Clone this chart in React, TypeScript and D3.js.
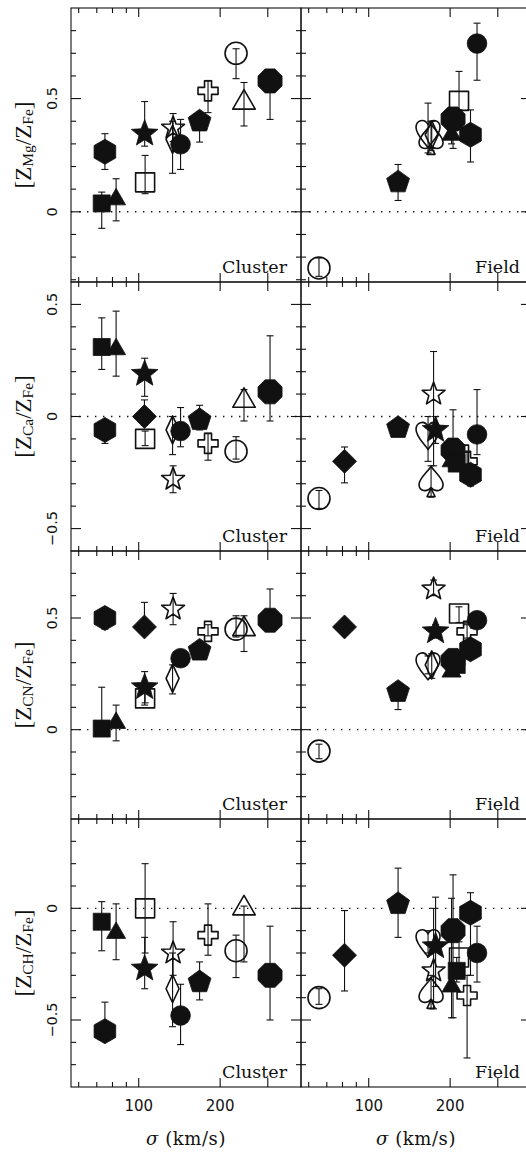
import React from "react";
import * as d3 from "d3";

// galaxies in the Cluster panels
const clusterSymbols = [
  "hexagon", "square", "triangle", "squareOpen", "star", "diamond", "starOpen",
  "diamondOpen", "circle", "pentagon", "crossOpen", "circleOpen", "triangleOpen", "octagon",
];
const clusterSigma = [75, 73, 82.5, 105.6, 105.2, 105, 134, 133.4, 142.8, 167.9, 180.4, 229, 245, 305.8];

// [value, lower end of error bar, upper end of error bar], null = not plotted
const clusterMg = [
  [0.265, 0.187, 0.345], [0.037, -0.073, 0.087], [0.055, -0.04, 0.146], [0.13, 0.08, 0.249],
  [0.345, 0.29, 0.487], null, [0.37, 0.31, 0.434], [0.32, 0.17, 0.4], [0.298, 0.187, 0.408],
  [0.4, 0.308, 0.44], [0.534, 0.438, 0.58], [0.7, 0.588, 0.72], [0.482, 0.379, 0.571], [0.578, 0.408, 0.6],
];
const clusterCa = [
  [-0.06, -0.12, -0.02], [0.31, 0.21, 0.44], [0.3, 0.18, 0.47], [-0.1, -0.13, -0.065],
  [0.19, 0.09, 0.26], [0.0, -0.04, 0.074], [-0.28, -0.34, -0.22], [-0.06, -0.17, 0.0],
  [-0.065, -0.135, 0.04], [-0.015, -0.06, 0.05], [-0.12, -0.195, -0.075], [-0.155, -0.19, -0.09],
  [0.07, -0.02, 0.12], [0.11, -0.02, 0.36],
];
const clusterCN = [
  [0.5, 0.45, 0.53], [0.005, -0.03, 0.19], [0.03, -0.05, 0.11], [0.14, 0.12, 0.2],
  [0.19, 0.11, 0.26], [0.46, 0.43, 0.57], [0.54, 0.47, 0.61], [0.23, 0.16, 0.29],
  [0.32, 0.3, 0.34], [0.355, 0.33, 0.38], [0.44, 0.42, 0.47], [0.45, 0.415, 0.51],
  [0.45, 0.35, 0.51], [0.49, 0.45, 0.63],
];
const clusterCH = [
  [-0.55, -0.58, -0.42], [-0.06, -0.19, 0.03], [-0.11, -0.23, 0.02], [0.0, -0.2, 0.2],
  [-0.27, -0.36, -0.13], null, [-0.2, -0.3, -0.06], [-0.36, -0.53, -0.2],
  [-0.48, -0.61, -0.34], [-0.33, -0.41, -0.24], [-0.12, -0.21, 0.02], [-0.19, -0.31, -0.12],
  [0.0, -0.24, 0.01], [-0.3, -0.5, -0.08],
];

// galaxies in the Field panels
const fieldSymbols = [
  "circleOpen", "diamond", "pentagon", "heartOpen", "spadeOpen", "diamondOpen", "starOpen", "star",
  "octagon", "triangle", "square", "squareOpen", "crossOpen", "hexagon", "circle",
];
const fieldSigma = [65.5, 81.4, 128.4, 165.7, 170, 171, 173.7, 176.7, 205, 202.4, 211.5, 215.7, 231, 237.8, 251.4];

const fieldMg = [
  [-0.248, -0.285, -0.204], null, [0.131, 0.05, 0.209], [0.35, 0.26, 0.48], [0.32, 0.27, 0.4],
  [0.34, 0.28, 0.4], null, null, [0.41, 0.28, 0.45], [0.34, 0.3, 0.38], null,
  [0.49, 0.45, 0.62], null, [0.34, 0.22, 0.45], [0.743, 0.581, 0.833],
];
const fieldCa = [
  [-0.366, -0.41, -0.33], [-0.2, -0.296, -0.136], [-0.05, -0.08, -0.02], [-0.08, -0.2, 0.0],
  [-0.29, -0.36, -0.22], null, [0.1, -0.22, 0.29], [-0.06, -0.12, 0.0], [-0.15, -0.2, 0.03],
  [-0.2, -0.23, -0.17], [-0.21, -0.24, -0.18], [-0.17, -0.22, -0.12], [-0.2, -0.24, -0.16],
  [-0.26, -0.31, -0.22], [-0.08, -0.17, 0.12],
];
const fieldCN = [
  [-0.096, -0.13, -0.065], [0.46, 0.44, 0.48], [0.17, 0.09, 0.2], [0.29, 0.25, 0.33], null,
  [0.29, 0.23, 0.34], [0.63, 0.6, 0.67], [0.44, 0.41, 0.47], [0.31, 0.28, 0.34], [0.26, 0.24, 0.3],
  [0.29, 0.26, 0.32], [0.52, 0.48, 0.55], [0.44, 0.41, 0.47], [0.36, 0.33, 0.39], [0.49, 0.46, 0.52],
];
const fieldCH = [
  [-0.4, -0.43, -0.36], [-0.21, -0.37, -0.01], [0.02, -0.13, 0.18], [-0.15, -0.2, -0.1],
  [-0.38, -0.45, -0.3], null, [-0.28, -0.45, 0.0], [-0.17, -0.35, 0.05], [-0.1, -0.49, 0.15],
  [-0.35, -0.49, 0.045], [-0.28, -0.33, -0.22], [-0.22, -0.3, -0.15], [-0.39, -0.67, -0.3],
  [-0.02, -0.3, 0.07], [-0.2, -0.33, -0.08],
];

const elements = ["Mg", "Ca", "CN", "CH"];
const yDomains = [[-0.31, 0.9], [-0.6, 0.6], [-0.4, 0.8], [-0.8, 0.4]];
const yTickLabels = [[0, 0.5], [-0.5, 0, 0.5], [0, 0.5], [-0.5, 0]];
const xMajorTicks = [100, 200, 300];
const xMinorTicks = [60, 70, 80, 90];
const xTickLabels = [100, 200];
const panelNames = ["Cluster", "Field"];

const W = 526;
const H = 1154;
const colEdges = [[71, 301], [301, 531]];
const rowEdges = [8, 282, 551, 819, 1087];
const ink = "#111";

const closedLine = d3.line().curve(d3.curveLinearClosed);
const ngon = (n: number, r: number, rot: number) =>
  closedLine(d3.range(n).map((i) => {
    const a = rot + (i * 2 * Math.PI) / n;
    return [r * Math.cos(a), r * Math.sin(a)] as [number, number];
  }));
const starPath = (ro: number, ri: number) =>
  closedLine(d3.range(10).map((i) => {
    const a = -Math.PI / 2 + (i * Math.PI) / 5;
    const r = i % 2 ? ri : ro;
    return [r * Math.cos(a), r * Math.sin(a)] as [number, number];
  }));
const circlePath = (r: number) => d3.symbol(d3.symbolCircle, Math.PI * r * r)();

const symbols: Record<string, { d: string; filled: boolean }> = {
  hexagon: { d: ngon(6, 12.5, -Math.PI / 2), filled: true },
  square: { d: "M-8.5,-8.5h17v17h-17Z", filled: true },
  triangle: { d: ngon(3, 11, -Math.PI / 2), filled: true },
  squareOpen: { d: "M-9.5,-9.5h19v19h-19Z", filled: false },
  star: { d: starPath(14, 6), filled: true },
  diamond: { d: ngon(4, 12, -Math.PI / 2), filled: true },
  starOpen: { d: starPath(12, 5), filled: false },
  diamondOpen: { d: "M0,-14L6.5,0L0,14L-6.5,0Z", filled: false },
  circle: { d: circlePath(9.8), filled: true },
  pentagon: { d: ngon(5, 12, -Math.PI / 2), filled: true },
  crossOpen: { d: "M-3.5,-10h7v6.5h6.5v7h-6.5v6.5h-7v-6.5h-6.5v-7h6.5Z", filled: false },
  circleOpen: { d: circlePath(11), filled: false },
  triangleOpen: { d: ngon(3, 13, -Math.PI / 2), filled: false },
  octagon: { d: ngon(8, 13, Math.PI / 8), filled: true },
  heartOpen: {
    d: "M0,15C-5,8,-12,2,-12,-5C-12,-12,-4,-15,0,-8C4,-15,12,-12,12,-5C12,2,5,8,0,15Z",
    filled: false,
  },
  spadeOpen: {
    d: "M0,-15C-5,-8,-12,-3,-12,3C-12,10,-4,11,0,6C4,11,12,10,12,3C12,-3,5,-8,0,-15ZM0,7L-4,15L4,15Z",
    filled: false,
  },
};

const fmt = (v: number) => (v < 0 ? "\u2212" : "") + Math.abs(v).toString();

export default function App() {
  const panelData = [
    [clusterMg, fieldMg],
    [clusterCa, fieldCa],
    [clusterCN, fieldCN],
    [clusterCH, fieldCH],
  ];
  const groups = [
    { sym: clusterSymbols, sigma: clusterSigma },
    { sym: fieldSymbols, sigma: fieldSigma },
  ];

  return (
    <svg width={W} height={H} style={{ position: "absolute", left: 0, top: 0, display: "block", background: "#fff" }}>
      {elements.map((el, row) => {
        const [y0, y1] = [rowEdges[row], rowEdges[row + 1]];
        const yScale = d3.scaleLinear().domain(yDomains[row]).range([y1, y0]);
        const yTicks = d3
          .range(Math.ceil(yDomains[row][0] * 10), Math.floor(yDomains[row][1] * 10) + 1)
          .map((k) => k / 10)
          .filter((v) => Math.abs(yScale(v) - y0) > 1.5 && Math.abs(yScale(v) - y1) > 1.5);

        return (
          <g key={el}>
            {colEdges.map(([x0, x1], col) => {
              const xScale = d3.scaleLog().domain([56.2, 398]).range([x0, x1]);
              const data = panelData[row][col];
              const { sym, sigma } = groups[col];
              return (
                <g key={col}>
                  {/* zero line */}
                  <line x1={x0} x2={x1} y1={yScale(0)} y2={yScale(0)} stroke={ink} strokeWidth={1.4}
                    strokeDasharray="1.4,6.6" />
                  {/* frame */}
                  <rect x={x0} y={y0} width={x1 - x0} height={y1 - y0} fill="none" stroke={ink} strokeWidth={1.1} />
                  {/* y ticks */}
                  {yTicks.map((v) => {
                    const major = Math.abs(v * 2 - Math.round(v * 2)) < 1e-6;
                    const len = major ? 10 : 5;
                    const y = yScale(v);
                    return (
                      <g key={v}>
                        <line x1={x0} x2={x0 + len} y1={y} y2={y} stroke={ink} strokeWidth={1.1} />
                        <line x1={x1} x2={x1 - len} y1={y} y2={y} stroke={ink} strokeWidth={1.1} />
                      </g>
                    );
                  })}
                  {/* x ticks */}
                  {[...xMajorTicks.map((t) => [t, 9]), ...xMinorTicks.map((t) => [t, 5])].map(([t, len]) => {
                    const x = xScale(t);
                    return (
                      <g key={t}>
                        <line x1={x} x2={x} y1={y1} y2={y1 - len} stroke={ink} strokeWidth={1.1} />
                        <line x1={x} x2={x} y1={y0} y2={y0 + len} stroke={ink} strokeWidth={1.1} />
                      </g>
                    );
                  })}
                  {/* error bars */}
                  {data.map((d, i) => {
                    if (!d) return null;
                    const x = xScale(sigma[i]);
                    const [, lo, hi] = d;
                    return (
                      <g key={"e" + i} stroke={ink} strokeWidth={1.1}>
                        <line x1={x} x2={x} y1={yScale(lo)} y2={yScale(hi)} />
                        <line x1={x - 3.5} x2={x + 3.5} y1={yScale(lo)} y2={yScale(lo)} />
                        <line x1={x - 3.5} x2={x + 3.5} y1={yScale(hi)} y2={yScale(hi)} />
                      </g>
                    );
                  })}
                  {/* symbols */}
                  {data.map((d, i) => {
                    if (!d) return null;
                    const s = symbols[sym[i]];
                    return (
                      <path key={"s" + i} d={s.d}
                        transform={`translate(${xScale(sigma[i])},${yScale(d[0])})`}
                        fill={s.filled ? ink : "none"} stroke={ink} strokeWidth={s.filled ? 0.8 : 1.6}
                        strokeLinejoin="round" />
                    );
                  })}
                  <text x={col === 0 ? x1 - 14 : 520} y={y1 - 9} textAnchor="end"
                    fontFamily="DejaVu Serif" fontSize={17.5} fill={ink}>
                    {panelNames[col]}
                  </text>
                  {row === elements.length - 1 &&
                    xTickLabels.map((t) => (
                      <text key={"xl" + t} x={xScale(t)} y={1111} textAnchor="middle"
                        fontFamily="DejaVu Sans" fontSize={15} fill={ink}>
                        {t}
                      </text>
                    ))}
                  {row === elements.length - 1 && (
                    <text x={(x0 + Math.min(x1, 531)) / 2} y={1145} textAnchor="middle"
                      fontFamily="DejaVu Serif" fontSize={18} fill={ink} letterSpacing={0.6}>
                      <tspan fontStyle="italic">σ</tspan> (km/s)
                    </text>
                  )}
                </g>
              );
            })}
            {/* y tick labels */}
            {yTickLabels[row].map((v) => (
              <text key={"yl" + v} transform={`translate(52,${yScale(v)}) rotate(-90)`} textAnchor="middle"
                dominantBaseline="central" fontFamily="DejaVu Sans" fontSize={14.5} fill={ink}>
                {fmt(v)}
              </text>
            ))}
            {/* y axis label */}
            <text transform={`translate(23,${(y0 + y1) / 2}) rotate(-90)`} textAnchor="middle"
              dominantBaseline="central" fontFamily="Liberation Serif" fontSize={23} fill={ink}>
              [Z
              <tspan fontSize={15.5} dy={4}>{el}</tspan>
              <tspan dy={-4}>/Z</tspan>
              <tspan fontSize={15.5} dy={4}>Fe</tspan>
              <tspan dy={-4}>]</tspan>
            </text>
          </g>
        );
      })}
    </svg>
  );
}
